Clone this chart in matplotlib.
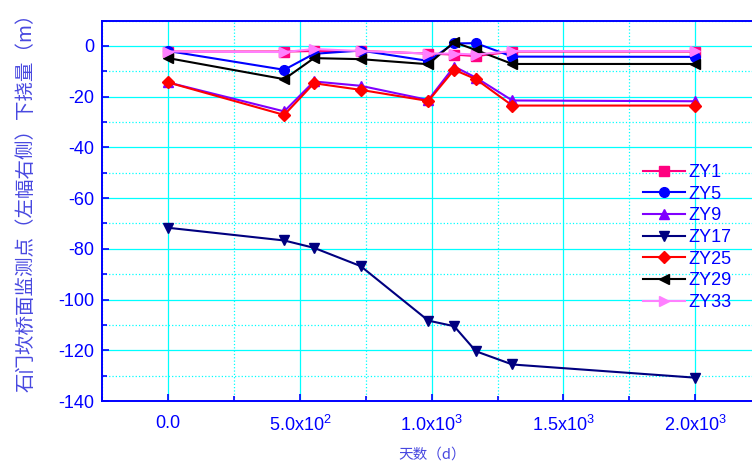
import matplotlib
matplotlib.use('Agg')
import matplotlib.pyplot as plt
from matplotlib.ticker import MultipleLocator, FixedLocator

plt.rcParams['font.family'] = ['Liberation Sans', 'Noto Sans CJK SC', 'DejaVu Sans']
plt.rcParams['mathtext.fontset'] = 'custom'
plt.rcParams['mathtext.rm'] = 'Liberation Sans'
plt.rcParams['mathtext.it'] = 'Liberation Sans:italic'
plt.rcParams['axes.unicode_minus'] = False

# 天数
days = [0, 440, 553, 730, 987, 1085, 1168, 1306, 2000]

zy1 = [-2.2, -2.2, -2.0, -2.0, -3.0, -3.4, -4.0, -2.2, -2.2]
zy5 = [-2.0, -9.4, -3.1, -1.8, -5.9, 1.0, 1.1, -4.2, -4.3]
zy9 = [-14.4, -25.8, -14.0, -15.7, -21.3, -8.1, -12.5, -21.5, -21.8]
zy17 = [-71.7, -76.7, -79.6, -86.8, -108.3, -110.5, -120.4, -125.6, -130.8]
zy25 = [-14.4, -27.2, -14.7, -17.3, -21.7, -9.4, -13.1, -23.5, -23.5]
zy29 = [-4.8, -13.1, -4.8, -5.2, -7.2, 1.5, -1.6, -7.1, -7.1]
zy33 = [-2.2, -2.4, -1.2, -2.0, -3.0, -3.0, -3.4, -2.0, -2.0]

xtick_vals = [0, 500, 1000, 1500, 2000]
xtick_labels = ['0.0', r'5.0x10$^{2}$', r'1.0x10$^{3}$', r'1.5x10$^{3}$', r'2.0x10$^{3}$']

fig = plt.figure(figsize=(7.52, 4.63), dpi=100)
ax = fig.add_axes([0.1362, 0.1339, 0.8758, 0.8216])

series = [
    (zy1, 'ZY1', '#FF0080', 's'),
    (zy5, 'ZY5', '#0000FF', 'o'),
    (zy9, 'ZY9', '#8000FF', '^'),
    (zy17, 'ZY17', '#000080', 'v'),
    (zy25, 'ZY25', '#FF0000', 'D'),
    (zy29, 'ZY29', '#000000', '<'),
    (zy33, 'ZY33', '#FF80FF', '>'),
]
for vals, name, c, m in series:
    ms = 6 if m == 'D' else 7
    ax.plot(days, vals, '-', color=c, marker=m, markersize=ms, lw=1.5,
            markeredgecolor=c, label=name, clip_on=False)

ax.set_xlim(-250, 2250)
ax.set_ylim(-140, 10)
ax.xaxis.set_major_locator(FixedLocator(xtick_vals))
ax.set_xticklabels(xtick_labels)
ax.xaxis.set_minor_locator(MultipleLocator(250))
ax.yaxis.set_major_locator(MultipleLocator(20))
ax.yaxis.set_minor_locator(MultipleLocator(10))

ax.set_axisbelow(True)
ax.grid(which='major', color='#00FFFF', lw=0.9, ls='-')
ax.grid(which='minor', color='#00FFFF', lw=0.9, ls=':')

for s in ax.spines.values():
    s.set_color('#0000FF')
    s.set_linewidth(1.4)
ax.tick_params(which='both', direction='in', colors='#0000FF', labelcolor='#0000FF',
               labelsize=13, width=1.2)
ax.tick_params(which='major', length=5, pad=6)
ax.tick_params(which='minor', length=3.5)
ax.tick_params(axis='x', which='major', pad=10)

ax.set_xlabel('天数（d）', fontsize=10.5, color='#4848E0',
              family=['Noto Sans CJK SC', 'DejaVu Sans'], labelpad=9)
ax.set_ylabel('石门坎桥面监测点（左幅右侧）下挠量（m）', fontsize=14, color='#4848E0',
              family=['Noto Sans CJK SC', 'DejaVu Sans'])
ax.yaxis.set_label_coords(-0.100, 0.535)

leg = ax.legend(loc='upper left', bbox_to_anchor=(643 / 752, 1 - 164 / 463),
                bbox_transform=fig.transFigure, frameon=False, fontsize=13,
                handlelength=2.3, handletextpad=0.2, labelspacing=0.26,
                borderpad=0, borderaxespad=0)
for t in leg.get_texts():
    t.set_color('#0000FF')

fig.savefig('out.png', dpi=100)
